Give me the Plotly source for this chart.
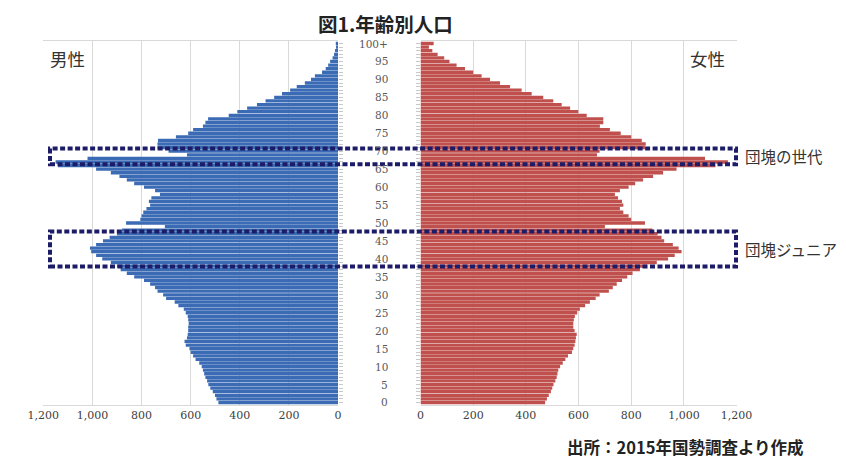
import plotly.graph_objects as go

W, H = 846, 470
OFF = 8  # page body margin in the browser

ages = list(range(0, 101))

male = [487, 495, 501, 510, 520, 528, 533, 540, 545, 550,
        555, 565, 580, 590, 600, 605, 620, 625, 615, 612,
        610, 610, 608, 610, 612, 620, 628, 650, 665, 700,
        712, 735, 745, 765, 790, 830, 860, 885, 900, 925,
        960, 985, 1005, 1010, 985, 957, 930, 900, 880, 705,
        863, 805, 800, 793, 780, 765, 770, 760, 725, 745,
        790, 830, 860, 890, 925, 985, 1140, 1150, 1020, 615,
        690, 735, 735, 733, 660, 610, 590, 550, 540, 529,
        445, 410, 370, 330, 295, 260, 228, 195, 168, 135,
        110, 94, 65, 50, 40, 32, 22, 16, 12, 8,
        9]

female = [473, 480, 487, 495, 500, 505, 512, 517, 520, 523,
          530, 540, 550, 560, 575, 580, 585, 588, 590, 593,
          585, 580, 580, 582, 586, 595, 605, 625, 643, 665,
          680, 715, 730, 745, 765, 785, 805, 833, 860, 897,
          940, 965, 991, 980, 958, 925, 915, 900, 880, 700,
          852, 800, 790, 770, 757, 770, 765, 750, 738, 757,
          790, 815, 845, 883, 921, 972, 1120, 1167, 1080, 670,
          680, 852, 855, 840, 800, 760, 719, 681, 694, 694,
          631, 599, 568, 536, 504, 466, 422, 384, 340, 302,
          264, 232, 200, 169, 137, 110, 90, 65, 45, 32,
          50]

age_ticks = list(range(0, 101, 5))
age_tick_labels = [str(a) if a < 100 else "100+" for a in age_ticks]

value_ticks = [0, 200, 400, 600, 800, 1000, 1200]
value_tick_labels = ["0", "200", "400", "600", "800", "1,000", "1,200"]

# highlighted generations (age ranges covered by dotted boxes)
boxes = [(66.4, 70.75, "団塊の世代"), (37.9, 47.6, "団塊ジュニア")]

title = "図1.年齢別人口"
male_label = "男性"
female_label = "女性"
source = "出所：2015年国勢調査より作成"

BLUE = "#3A6BB4"
RED = "#C0504D"
GRID = "#D9D9D9"
NAVY = "#1C1C68"
FONT = "Noto Sans CJK JP"
NUMFONT = "DejaVu Serif"

def px(x):
    return (x - OFF) / W

def py(y):
    return 1 - (y - OFF) / H

fig = go.Figure()
fig.add_trace(go.Bar(y=ages, x=male, orientation="h", marker=dict(color=BLUE, line=dict(width=0)),
                     xaxis="x", yaxis="y", showlegend=False, hoverinfo="x+y"))
fig.add_trace(go.Bar(y=ages, x=female, orientation="h", marker=dict(color=RED, line=dict(width=0)),
                     xaxis="x2", yaxis="y2", showlegend=False, hoverinfo="x+y"))

ydom = [py(405), py(41)]
yrange = [-0.7, 100.7]

axis_common = dict(tickvals=value_ticks, ticktext=value_tick_labels,
                   showgrid=True, gridcolor=GRID, gridwidth=1,
                   showline=True, mirror=True, linecolor=GRID, linewidth=1,
                   ticks="", zeroline=False, automargin=False,
                   tickfont=dict(family=NUMFONT, size=11, color="#404040"))

fig.update_layout(
    width=W, height=H, autosize=False,
    margin=dict(l=0, r=0, t=0, b=0, pad=0, autoexpand=False),
    paper_bgcolor="white", plot_bgcolor="white",
    bargap=0.08,
    xaxis=dict(axis_common, domain=[px(43.3), px(338)], range=[1200, 0], anchor="y"),
    xaxis2=dict(axis_common, domain=[px(420.5), px(736.6)], range=[0, 1200], anchor="y2"),
    yaxis=dict(domain=ydom, range=yrange, anchor="x", side="right", automargin=False,
               showticklabels=False, showgrid=False, zeroline=False,
               ticks="outside", tickvals=ages, ticklen=4, tickcolor="#C8C8C8", showline=False),
    yaxis2=dict(domain=ydom, range=yrange, anchor="x2", side="left", matches="y", automargin=False,
                showticklabels=False, showgrid=False, zeroline=False,
                ticks="outside", tickvals=ages, ticklen=4, tickcolor="#C8C8C8", showline=False),
    font=dict(family=FONT),
)

annotations = []
for a, lab in zip(age_ticks, age_tick_labels):
    annotations.append(dict(x=px(390), y=a, xref="paper", yref="y", text=lab, showarrow=False,
                            xanchor="right", yanchor="middle",
                            font=dict(family=NUMFONT, size=10.5, color="#595959")))

annotations += [
    dict(x=px(385), y=py(8), xref="paper", yref="paper", text="<b>" + title + "</b>",
         showarrow=False, xanchor="center", yanchor="top", borderpad=0,
         font=dict(family=FONT, size=19.5, color="#222222")),
    dict(x=px(48), y=py(58), xref="paper", yref="paper", text=male_label,
         showarrow=False, xanchor="left", yanchor="middle",
         font=dict(family=FONT, size=17.5, color="#333333")),
    dict(x=px(727), y=py(58), xref="paper", yref="paper", text=female_label,
         showarrow=False, xanchor="right", yanchor="middle",
         font=dict(family=FONT, size=17.5, color="#333333")),
    dict(x=px(806), y=py(447), xref="paper", yref="paper", text="<b>" + source + "</b>",
         showarrow=False, xanchor="right", yanchor="middle",
         font=dict(family=FONT, size=16.5, color="#222222")),
]

shapes = []
for lo, hi, lab in boxes:
    shapes.append(dict(type="rect", xref="paper", yref="y", x0=px(50), x1=px(736), y0=lo, y1=hi,
                       line=dict(color=NAVY, width=4, dash="5px,2.5px"), fillcolor="rgba(0,0,0,0)",
                       layer="above"))
    annotations.append(dict(x=px(744), y=(lo + hi) / 2, xref="paper", yref="y", text=lab,
                            showarrow=False, xanchor="left", yanchor="middle", borderpad=0,
                            font=dict(family=FONT, size=15.5, color="#333333")))

fig.update_layout(annotations=annotations, shapes=shapes)

fig.write_html("out.html")
